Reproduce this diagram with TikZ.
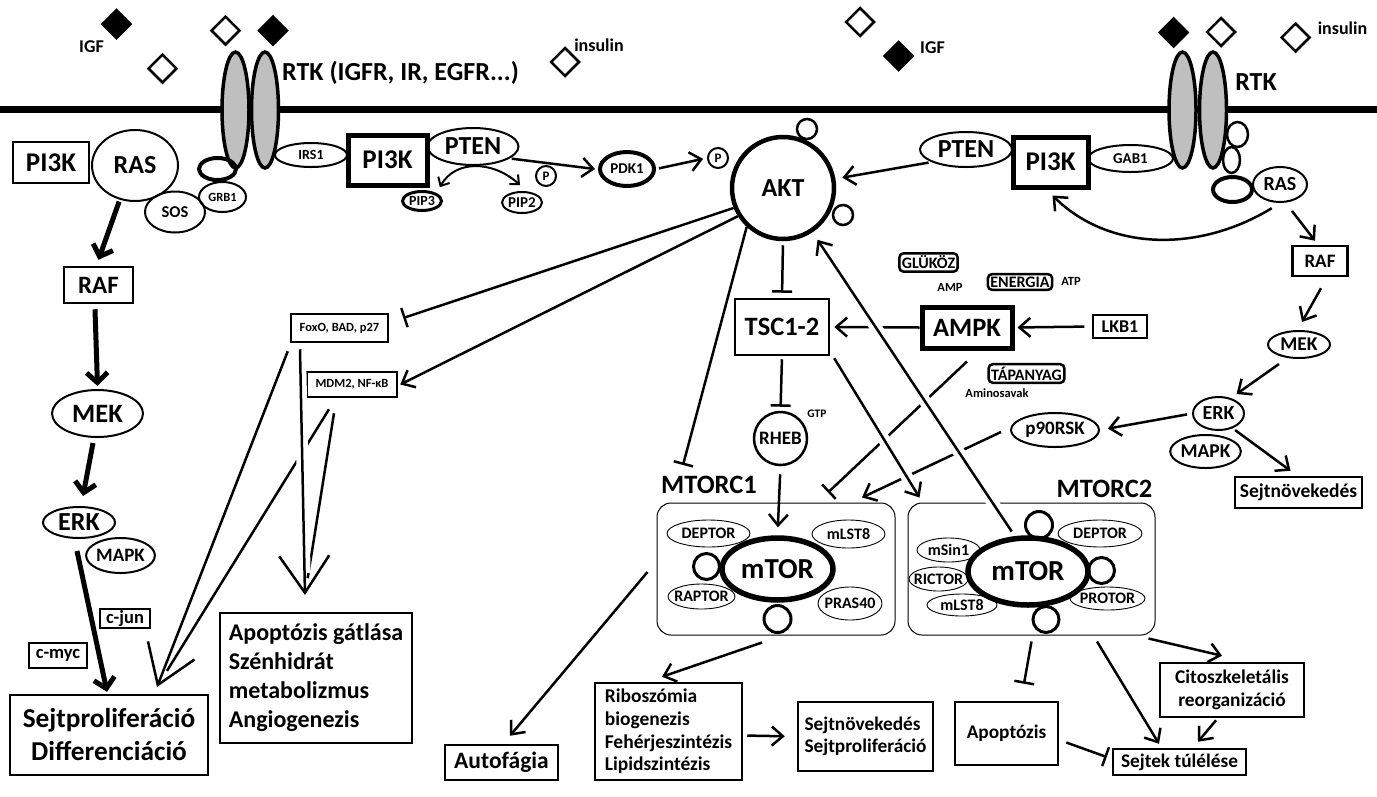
\documentclass[tikz,border=0pt]{standalone}
\usepackage{fontspec}
\setmainfont{Carlito}
\usetikzlibrary{arrows.meta,shapes.geometric}
\newcommand\fz[2]{\fontsize{#1}{#2}\selectfont\bfseries}

\tikzset{
  ar/.style={line width=2.5pt,-{Straight Barb[length=11pt,width=19pt]}},
  arb/.style={line width=5pt,-{Straight Barb[length=10pt,width=21pt]}},
  arc/.style={line width=2pt,{Straight Barb[length=7pt,width=13pt]}-{Straight Barb[length=7pt,width=13pt]}},
  inh/.style={line width=2.5pt,-{Bar[width=20pt]}},
  bigv/.style={line width=2.5pt,-{Straight Barb[length=37pt,width=50pt]}},
  over/.style={preaction={draw,white,line width=12pt,-,shorten <=22pt,shorten >=22pt}},
  bx/.style={draw,line width=2.5pt,inner sep=0pt},
  bbx/.style={draw,line width=5pt,inner sep=0pt},
  rb/.style={draw,rounded corners=4pt,line width=2.5pt,inner sep=2.5pt,font=\fz{16}{18}},
  el/.style={ellipse,draw,line width=2pt,inner sep=0pt},
  comp/.style={ellipse,draw,line width=0.9pt,inner sep=0pt,inner xsep=-4pt,font=\fz{16}{18}},
  sm/.style={circle,draw,line width=2.5pt,inner sep=0pt,minimum size=20pt},
  pc/.style={circle,draw,line width=2pt,inner sep=0pt,minimum size=20pt,font=\fz{13}{15}},
  dia/.style={diamond,draw,line width=2.5pt,inner sep=0pt,minimum size=29pt},
  rec/.style={ellipse,draw,fill=gray!50,line width=3.5pt,minimum width=27pt,minimum height=116pt},
  lbl/.style={inner sep=0pt,anchor=base},
}

\begin{document}
\begin{tikzpicture}[x=1pt,y=-1pt]
\useasboundingbox (0,0) rectangle (1377,796);

% ligands
\node[dia,fill=black] (igf1) at (116.5,24) {};
\node[lbl,font=\fz{18}{20}] (igft1) at (91.5,52) {IGF};
\node[dia] (ins1) at (162.5,68.5) {};
\node[dia] (ins2) at (225.5,30.5) {};
\node[dia,fill=black] (igf2) at (273,30.5) {};
\node[dia] (ins3) at (565,62) {};
\node[lbl,font=\fz{18}{20}] (inst1) at (599,51) {insulin};
\node[dia] (ins4) at (860,22) {};
\node[dia,fill=black] (igf3) at (898.5,56) {};
\node[lbl,font=\fz{18}{20}] (igft2) at (932.5,53) {IGF};
\node[dia,fill=black] (igf4) at (1173.5,32.5) {};
\node[dia] (ins5) at (1221,32) {};
\node[dia] (ins6) at (1295.5,37.5) {};
\node[lbl,font=\fz{18}{20}] (inst2) at (1342.5,34) {insulin};

% membrane and receptors
\draw[line width=7pt] (0,109.5) -- (1377,109.5);
\node[rec] (rtk1a) at (235.5,110) {};
\node[rec] (rtk1b) at (265,110) {};
\node[rec] (rtk2a) at (1182.5,110) {};
\node[rec] (rtk2b) at (1213,110) {};
\node[lbl,anchor=base west,font=\fz{26}{28}] (rtkt1) at (282,80) {RTK (IGFR, IR, EGFR...)};
\node[lbl,font=\fz{26}{28}] (rtkt2) at (1256,90.5) {RTK};

% left receptor complex
\node[bx,minimum width=76pt,minimum height=41pt,font=\fz{27}{29}] (pik1) at (51,162.5) {PI3K};
\node[el,minimum width=86pt,minimum height=71pt,font=\fz{26}{28}] (ras1) at (135,165.5) {RAS};
\node[el,minimum width=60pt,minimum height=41pt,font=\fz{16.5}{18}] (sos) at (175,212) {SOS};
\node[el,minimum width=47pt,minimum height=30pt,font=\fz{12.5}{14}] (grb) at (222.5,197) {GRB1};
\node[el,line width=4pt,minimum width=37pt,minimum height=22pt] (adp1) at (217.5,169) {};
\node[el,minimum width=72pt,minimum height=24pt,font=\fz{14}{16}] (irs) at (311,155) {IRS1};
\node[bbx,minimum width=79pt,minimum height=50pt,font=\fz{27}{29}] (pik2) at (387.5,160) {PI3K};
\node[el,minimum width=91pt,minimum height=37pt,font=\fz{26}{28}] (pten1) at (473,146.5) {PTEN};
\node[el,line width=3pt,minimum width=39pt,minimum height=19pt,font=\fz{14}{16}] (pip3) at (422,201) {PIP3};
\node[el,minimum width=40pt,minimum height=21pt,font=\fz{15}{17}] (pip2) at (522,202.5) {PIP2};
\node[pc] (p1) at (546,176) {P};
\node[el,line width=4pt,minimum width=54pt,minimum height=34pt,font=\fz{15}{17}] (pdk) at (627,169) {PDK1};
\node[pc] (p2) at (718,158) {P};

% AKT
\node[circle,draw,line width=4.5pt,minimum size=102pt,inner sep=0pt,font=\fz{26}{28}] (akt) at (783,188) {AKT};
\node[sm] (akts1) at (807,129) {};
\node[sm] (akts2) at (843,215) {};

% right receptor complex
\node[el,minimum width=92pt,minimum height=35pt,font=\fz{26}{28}] (pten2) at (966,149.5) {PTEN};
\node[bbx,minimum width=75pt,minimum height=50pt,font=\fz{27}{29}] (pik3) at (1050.5,162) {PI3K};
\node[el,minimum width=85pt,minimum height=27pt,font=\fz{15}{17}] (gab) at (1130.5,158.5) {GAB1};
\node[el,line width=2.5pt,minimum width=21pt,minimum height=25pt] (rs1) at (1237.5,134.5) {};
\node[el,line width=2.5pt,minimum width=17pt,minimum height=26pt] (rs2) at (1231.5,160) {};
\node[el,line width=4pt,minimum width=39pt,minimum height=25pt] (adp2) at (1232.5,189.5) {};
\node[el,minimum width=54pt,minimum height=35pt,font=\fz{20}{22}] (ras2) at (1280,184.5) {RAS};

% right MAPK chain
\node[bx,minimum width=55pt,minimum height=30pt,font=\fz{19}{21}] (raf2) at (1320,261) {RAF};
\node[el,minimum width=62pt,minimum height=27pt,font=\fz{19.5}{21}] (mek2) at (1299,344.5) {MEK};
\node[el,minimum width=51pt,minimum height=33pt,font=\fz{20}{22}] (erk2) at (1218.5,413.5) {ERK};
\node[el,minimum width=67pt,minimum height=33pt,font=\fz{19.5}{21}] (mapk2) at (1205.5,451.5) {MAPK};
\node[el,minimum width=88pt,minimum height=34pt,font=\fz{19}{21}] (rsk) at (1055,430) {p90RSK};
\node[bx,minimum width=127pt,minimum height=31pt,font=\fz{19.5}{21}] (grow2) at (1298.5,492.5) {Sejtnövekedés};

% energy sensing
\node[bx,minimum width=94pt,minimum height=56pt,font=\fz{26.5}{29}] (tsc) at (782,327) {TSC1-2};
\node[bbx,minimum width=90pt,minimum height=41pt,font=\fz{26.5}{29}] (ampk) at (967,327.5) {AMPK};
\node[draw,line width=1.2pt,inner sep=0pt,minimum width=54pt,minimum height=23pt,font=\fz{18}{20}] (lkb) at (1120,326.5) {LKB1};
\node[rb] (glu) at (928.5,262.5) {GLÜKÖZ};
\node[lbl,font=\fz{12.5}{14}] (amp) at (950,291.5) {AMP};
\node[rb] (ene) at (1020,282) {ENERGIA};
\node[lbl,font=\fz{12.5}{14}] (atp) at (1071,285.5) {ATP};
\node[rb] (tap) at (1026.5,373.5) {TÁPANYAG};
\node[lbl,font=\fz{12.5}{14}] (amino) at (997,397.5) {Aminosavak};
\node[circle,draw,line width=2.5pt,minimum size=53pt,inner sep=0pt,font=\fz{19}{21}] (rheb) at (780.5,438.5) {RHEB};
\node[lbl,font=\fz{11.5}{13}] (gtp) at (817,417) {GTP};

% AKT targets
\node[bx,minimum width=97pt,minimum height=28pt,font=\fz{12.5}{14}] (foxo) at (339.5,328) {FoxO, BAD, p27};
\node[bx,minimum width=90pt,minimum height=25pt,font=\fz{12.5}{14}] (mdm) at (352,384.5) {MDM2, NF-κB};
\node[bx,minimum width=192pt,minimum height=130pt,align=left,font=\fz{24}{29}] (apo1) at (316,678) {Apoptózis gátlása\\Szénhidrát\\metabolizmus\\Angiogenezis};

% left MAPK chain
\node[bx,minimum width=69pt,minimum height=36pt,font=\fz{25}{27}] (raf1) at (98.5,285) {RAF};
\node[el,minimum width=91pt,minimum height=47pt,font=\fz{26.5}{28}] (mek1) at (97.5,413.5) {MEK};
\node[el,minimum width=72pt,minimum height=31pt,font=\fz{26}{28}] (erk1) at (79,522.5) {ERK};
\node[el,minimum width=67pt,minimum height=35pt,font=\fz{19}{21}] (mapk1) at (120.5,555.5) {MAPK};
\node[bx,minimum width=50pt,minimum height=19pt,font=\fz{18.5}{20}] (cjun) at (125,618.5) {c-jun};
\node[bx,minimum width=58pt,minimum height=25pt,font=\fz{18.5}{20}] (cmyc) at (58,655.5) {c-myc};
\node[bx,minimum width=198pt,minimum height=80pt,align=center,font=\fz{27.3}{33}] (prolif) at (109,735) {Sejtproliferáció\\Differenciáció};

% mTOR complexes
\node[lbl,font=\fz{26.5}{28}] (mt1lbl) at (709,493) {MTORC1};
\node[lbl,font=\fz{26.5}{28}] (mt2lbl) at (1104.5,497) {MTORC2};
\node[draw,rounded corners=14pt,line width=1pt,minimum width=238pt,minimum height=132pt] (c1box) at (776,569) {};
\node[draw,rounded corners=14pt,line width=1pt,minimum width=247pt,minimum height=132pt] (c2box) at (1031.5,569) {};
\node[el,line width=5.5pt,minimum width=111pt,minimum height=62pt,font=\fz{29}{31}] (mtor1) at (777.5,569) {mTOR};
\node[comp,minimum width=83pt,minimum height=27pt] (dep1) at (708.5,533.5) {DEPTOR};
\node[comp,minimum width=73pt,minimum height=28pt] (mls1) at (848.5,534) {mLST8};
\node[sm,line width=3pt,minimum size=26pt] (c1s1) at (706.5,566.5) {};
\node[comp,minimum width=67pt,minimum height=25pt] (rap) at (701.5,596.5) {RAPTOR};
\node[comp,minimum width=64pt,minimum height=33pt] (pras) at (850,603.5) {PRAS40};
\node[sm,line width=3pt,minimum size=27pt] (c1s2) at (777.5,619) {};
\node[el,line width=5.5pt,minimum width=120pt,minimum height=67pt,font=\fz{29}{31}] (mtor2) at (1028,571.5) {mTOR};
\node[sm,line width=3pt,minimum size=27pt] (c2s1) at (1039,525) {};
\node[comp,minimum width=84pt,minimum height=27pt] (dep2) at (1100,533.5) {DEPTOR};
\node[comp,minimum width=63pt,minimum height=24pt] (msin) at (948.5,550) {mSin1};
\node[comp,minimum width=59pt,minimum height=24pt] (ric) at (938.5,579) {RICTOR};
\node[comp,minimum width=70pt,minimum height=22pt] (mls2) at (962,605) {mLST8};
\node[sm,line width=3pt,minimum size=26pt] (c2s2) at (1101.5,570.5) {};
\node[comp,minimum width=75pt,minimum height=23pt] (prot) at (1107.5,598.5) {PROTOR};
\node[sm,line width=3pt,minimum size=26pt] (c2s3) at (1046,619.5) {};

% outputs
\node[bx,minimum width=113pt,minimum height=35pt,font=\fz{23.5}{25}] (auto) at (501.5,762.5) {Autofágia};
\node[bx,minimum width=147pt,minimum height=97pt,align=left,font=\fz{19.5}{22.7}] (ribo) at (668.5,731.5) {Riboszómia\\biogenezis\\Fehérjeszintézis\\Lipidszintézis};
\node[bx,minimum width=135pt,minimum height=69pt,align=left,font=\fz{19.3}{21.5}] (grow1) at (865.5,736.5) {Sejtnövekedés\\Sejtproliferáció};
\node[bx,minimum width=103pt,minimum height=63pt,font=\fz{19.3}{21}] (apo2) at (1006.5,733.5) {Apoptózis};
\node[bx,minimum width=144pt,minimum height=54pt,align=center,font=\fz{19.4}{23}] (cito) at (1232,690) {Citoszkeletális\\reorganizáció};
\node[bx,minimum width=133pt,minimum height=26pt,font=\fz{19.3}{21}] (surv) at (1179.5,762) {Sejtek túlélése};

% tips of the big open arrows
\coordinate (vp) at (157,687);
\coordinate (va) at (305,595);

% left pathway
\draw[arb] ([yshift=-2pt]ras1.245) -- ([yshift=6pt]raf1.north);
\draw[arb] ([xshift=-3.5pt,yshift=-5pt]raf1.south) -- ([yshift=3pt]mek1.north);
\draw[arb] ([xshift=-4.5pt,yshift=-5pt]mek1.south) -- ([xshift=4pt,yshift=10pt]erk1.north);
\draw[arb] ([xshift=-2pt,yshift=-12pt]erk1.south) -- ([xshift=-2pt,yshift=2pt]prolif.north);

% PI3K / PTEN / PDK1
\draw[arc] ([xshift=3pt,yshift=6pt]pip3.north east) .. controls (455,160) and (492,160) .. ([xshift=-2pt,yshift=6pt]pip2.north);
\draw[ar,shorten <=2pt] (pten1.-18) -- ([xshift=-3pt]pdk.west);
\draw[ar,shorten <=3pt,shorten >=4pt] (pdk.east) -- (p2.west);
\draw[ar,shorten <=3pt,shorten >=7pt] (pten2.200) -- (akt);

% right pathway
\draw[ar] ([yshift=-6pt]ras2.-115) .. controls (1200,252) and (1110,252) .. ([xshift=2pt,yshift=-6pt]pik3.south);
\draw[ar] ([xshift=12pt,yshift=-8pt]ras2.-90) -- ([xshift=-5pt,yshift=4pt]raf2.north);
\draw[ar] ([xshift=1pt,yshift=-11pt]raf2.south) -- ([xshift=3pt,yshift=8pt]mek2.north);
\draw[ar] ([xshift=-20pt,yshift=-5pt]mek2.south) -- ([xshift=18pt,yshift=2pt]erk2.north);
\draw[ar,shorten <=5pt,shorten >=8pt] (erk2.west) -- (rsk.east);
\draw[ar] ([xshift=2pt,yshift=-2pt]erk2.-45) -- ([xshift=-8pt,yshift=5pt]grow2.north);

% AKT targets
\draw[inh] (akt.202) -- ([xshift=14pt,yshift=10pt]foxo.east);
\draw[ar] (akt.212) -- ([xshift=2pt]mdm.east);
\draw[bigv] ([xshift=-2pt,yshift=-8pt]foxo.south west) -- (vp);
\draw[line width=2.5pt,shorten >=19pt] ([xshift=-23pt,yshift=-11pt]mdm.south) -- (vp);
\draw[line width=2.5pt,shorten >=17pt] ([xshift=-18pt,yshift=-15pt]mdm.south) -- (va);
\draw[bigv,over] ([xshift=-39.5pt,yshift=-6pt]foxo.south) -- (va);

% TSC / AMPK / RHEB
\draw[ar,shorten <=8pt,shorten >=3pt] (lkb.west) -- (ampk.east);
\draw[ar,shorten >=4pt] (ampk.west) -- (tsc.east);
\draw[inh,dash pattern=on 500pt off 0pt] ([yshift=-11pt]ampk.south) -- ([xshift=52pt,yshift=10pt]c1box.north);
\draw[ar] ([xshift=-9pt,yshift=-2pt]rsk.west) -- ([xshift=86pt,yshift=5pt]c1box.north);
\draw[inh,shorten <=4pt,shorten >=5pt] (akt.south) -- (tsc.north);
\draw[inh,shorten <=3pt,shorten >=4pt] (tsc.south) -- (rheb.north);
\draw[ar,shorten <=8pt,shorten >=8pt] (rheb.south) -- (mtor1.north);
\draw[inh] (akt.227) -- ([xshift=-26pt,yshift=28pt]mt1lbl.base);
\draw[ar,over] ([xshift=4pt,yshift=-2pt]tsc.south east) -- ([xshift=12pt,yshift=5pt]c2box.north west);
\draw[ar,over,shorten >=9pt] ([yshift=5pt]mtor2.115) -- (akt);

% mTOR outputs
\draw[ar] ([xshift=-9pt,yshift=-3pt]c1box.west) -- ([xshift=8.5pt,yshift=8pt]auto.north);
\draw[ar] ([xshift=-14pt,yshift=-7pt]c1box.south) -- ([xshift=-6.5pt,yshift=5pt]ribo.north);
\draw[ar,shorten <=4pt,shorten >=12pt] ([yshift=-4pt]ribo.east) -- (grow1.west);
\draw[inh] ([yshift=-6pt]c2box.south) -- ([xshift=17.5pt,yshift=17pt]apo2.north);
\draw[inh] ([xshift=7pt,yshift=-9pt]apo2.east) -- ([xshift=-5pt,yshift=5pt]surv.west);
\draw[ar] ([xshift=65.5pt,yshift=-6pt]c2box.south) -- ([xshift=-20.5pt,yshift=4pt]surv.north);
\draw[ar] ([xshift=-7pt,yshift=-3pt]c2box.south east) -- ([xshift=-10pt,yshift=6pt]cito.north);
\draw[ar] ([xshift=-16pt,yshift=-2pt]cito.south) -- ([xshift=18.5pt,yshift=6pt]surv.north);
\end{tikzpicture}
\end{document}
